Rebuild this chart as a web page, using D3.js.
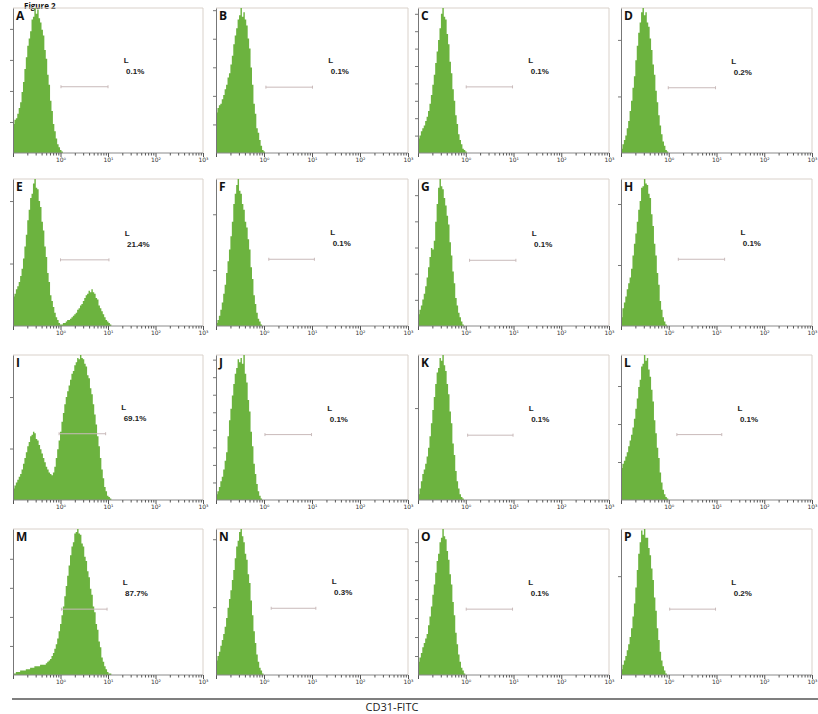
<!DOCTYPE html>
<html>
<head>
<meta charset="utf-8">
<script src="https://cdn.jsdelivr.net/npm/d3@7"></script>
<style>
  html, body { margin: 0; padding: 0; background: #fff; }
  svg { display: block; }
  .panel-letter { font-family: "Open Sans", sans-serif; font-weight: 700; font-size: 12px; fill: #111; }
  .gate-text { font-family: "Liberation Sans", Arial, sans-serif; font-weight: 700; font-size: 8px; fill: #222; }
  .x-minor .domain, .x-major .domain { display: none; }
  .x-minor line, .x-major line { stroke: #555; }
  .x-major text { font-family: "DejaVu Sans", sans-serif; font-size: 6px; fill: #333; }
  .y-axis line, .y-axis path { stroke: #777; }
</style>
</head>
<body>
<svg id="chart" width="818" height="714"></svg>
<script>
// panel letters and gate readouts
const panelLetters = ['A', 'B', 'C', 'D', 'E', 'F', 'G', 'H', 'I', 'J', 'K', 'L', 'M', 'N', 'O', 'P'];
const gatePercent = ['0.1%', '0.1%', '0.1%', '0.2%', '21.4%', '0.1%', '0.1%', '0.1%',
                     '69.1%', '0.1%', '0.1%', '0.1%', '87.7%', '0.3%', '0.1%', '0.2%'];

// gate marker "L": start / end in log10 units, height as % of peak
const gateFrom = [0.01, 0.04, 0.01, -0.01, 0.0, 0.10, 0.08, 0.20, -0.03, 0.02, 0.04, 0.17, 0.02, 0.15, 0.01, 0.02];
const gateTo = [1.0, 1.01, 0.98, 0.98, 1.02, 1.05, 1.05, 1.17, 0.95, 0.99, 0.99, 1.11, 0.98, 1.08, 0.98, 0.98];
const gateLevel = [45.7, 45.4, 45.6, 45.0, 45.0, 45.4, 44.7, 45.4, 45.7, 45.1, 44.7, 45.1, 45.1, 45.7, 45.1, 45.1];

// y tick spacing (counts axis, % of peak)
const yTickStep = [21.4, 19.7, 12, 39, 42.5, 38, 17.8, 41.5, 35.5, 12.1, 63.4, 26.2, 19.9, 46.5, 13, 67.7];

// histogram bins start at 10^-1, each bin 0.03 decades wide (values = % of peak)
const binStart = -1;
const binStep = 0.03;

const histA = [20, 23, 24, 27, 31, 35, 42, 49, 58, 66, 74, 79, 84, 92, 94, 100, 96, 99, 93, 90, 85, 81, 71, 65, 54, 47, 36, 29, 20, 15, 10, 6, 4, 2, 1, 0];
const histB = [28, 31, 33, 34, 37, 40, 44, 47, 52, 55, 61, 67, 75, 81, 86, 92, 95, 100, 94, 97, 92, 88, 79, 72, 59, 47, 34, 27, 17, 14, 9, 5, 2, 1, 0];
const histC = [10, 12, 15, 17, 19, 22, 25, 29, 34, 40, 47, 54, 62, 70, 78, 86, 96, 100, 94, 92, 82, 75, 63, 55, 44, 36, 26, 20, 13, 9, 6, 3, 2, 1, 0];
const histD = [3, 6, 9, 12, 17, 22, 29, 36, 45, 53, 64, 74, 83, 90, 97, 100, 95, 97, 90, 87, 79, 71, 61, 54, 43, 35, 26, 19, 13, 8, 5, 2, 1, 0];
const histE = [20, 22, 25, 27, 30, 34, 39, 46, 54, 62, 72, 79, 87, 90, 97, 100, 94, 93, 85, 81, 71, 65, 54, 47, 36, 30, 21, 17, 13, 9, 6, 4, 2, 1,
               1, 2, 2, 3, 4, 4, 5, 6, 7, 8, 9, 11, 12, 14, 15, 17, 19, 21, 22, 24, 23, 25, 23, 22, 19, 18, 14, 12, 10, 8, 6, 4, 3, 2, 1, 0];
const histF = [2, 4, 7, 11, 16, 22, 28, 36, 44, 52, 61, 71, 83, 90, 96, 100, 92, 90, 83, 79, 71, 67, 59, 52, 40, 32, 21, 15, 9, 5, 3, 1, 0];
const histG = [8, 11, 14, 18, 22, 27, 33, 40, 47, 53, 52, 58, 71, 83, 94, 100, 95, 93, 87, 82, 75, 69, 57, 48, 37, 29, 19, 14, 9, 6, 3, 1, 0];
const histH = [6, 12, 16, 20, 25, 29, 33, 39, 48, 56, 63, 71, 79, 85, 94, 95, 100, 97, 96, 90, 87, 76, 68, 56, 48, 36, 28, 17, 11, 6, 3, 1, 0];
const histI = [8, 10, 12, 14, 16, 18, 21, 25, 29, 33, 37, 40, 44, 45, 47, 46, 42, 41, 38, 35, 32, 29, 26, 23, 21, 19, 18, 17, 19, 23, 29, 35, 41, 47,
               54, 60, 66, 71, 75, 79, 83, 87, 89, 93, 95, 98, 97, 100, 98, 97, 94, 92, 86, 84, 77, 73, 66, 59, 52, 44, 37, 29, 21, 15, 9, 6, 3, 2, 1, 0];
const histJ = [4, 6, 9, 13, 16, 21, 27, 33, 44, 55, 63, 72, 80, 87, 91, 97, 95, 98, 94, 100, 87, 81, 69, 61, 47, 37, 25, 18, 11, 6, 3, 1, 0];
const histK = [4, 8, 13, 18, 21, 25, 30, 36, 44, 53, 62, 71, 80, 88, 91, 98, 96, 100, 93, 89, 80, 73, 61, 53, 39, 31, 20, 13, 8, 4, 2, 1, 0];
const histL = [22, 25, 27, 30, 33, 37, 41, 45, 50, 56, 63, 70, 78, 83, 92, 94, 100, 96, 98, 90, 85, 76, 68, 55, 46, 36, 29, 19, 12, 7, 4, 2, 1, 0];
const histM = [1, 1, 2, 2, 2, 3, 3, 3, 3, 4, 4, 4, 5, 5, 5, 6, 6, 6, 6, 7, 7, 7, 7, 8, 9, 10, 11, 13, 15, 18, 21, 25, 30, 35,
               41, 47, 54, 61, 68, 75, 82, 88, 91, 97, 98, 100, 97, 96, 90, 88, 81, 78, 71, 67, 59, 55, 47, 43, 35, 31, 23, 19, 12, 9, 6, 4, 2, 1, 1, 0];
const histN = [10, 13, 16, 20, 24, 28, 33, 39, 46, 52, 58, 65, 72, 80, 88, 92, 98, 100, 95, 91, 83, 79, 69, 63, 51, 41, 30, 22, 14, 9, 5, 3, 1, 0];
const histO = [9, 12, 15, 19, 22, 25, 28, 34, 40, 47, 55, 62, 70, 78, 83, 91, 94, 100, 95, 93, 85, 79, 69, 62, 50, 41, 29, 21, 14, 9, 5, 3, 1, 0];
const histP = [4, 7, 10, 13, 17, 21, 26, 32, 40, 49, 60, 72, 83, 91, 99, 96, 100, 94, 94, 87, 82, 73, 65, 53, 44, 32, 24, 16, 10, 6, 3, 1, 0];

const histograms = [histA, histB, histC, histD, histE, histF, histG, histH,
                    histI, histJ, histK, histL, histM, histN, histO, histP];

// x axis decades
const majorTicks = [0.1, 1, 10, 100, 1000];
const majorLabels = ['', '10\u2070', '10\u00B9', '10\u00B2', '10\u00B3'];

// layout of the scanned figure
const colLeft = [13, 216, 418, 621];
const colRight = [203, 408, 609, 812];
const rowTop = [8, 179, 355, 529];
const rowBottom = [153, 326, 500, 675];

const svg = d3.select('#chart');

svg.append('text')
  .attr('x', 24).attr('y', 9)
  .attr('font-family', '"Open Sans", sans-serif')
  .attr('font-weight', 700)
  .attr('font-size', 8)
  .attr('fill', '#111')
  .text('Figure 2');

const minorTicks = [];
majorTicks.slice(0, -1).forEach(d => {
  for (let k = 2; k <= 9; k++) minorTicks.push(d * k);
});

histograms.forEach((hist, i) => {
  const col = i % 4, row = Math.floor(i / 4);
  const left = colLeft[col], right = colRight[col];
  const top = rowTop[row], bottom = rowBottom[row];

  const x = d3.scaleLog().domain([0.1, 1000]).range([left, right]);
  const y = d3.scaleLinear().domain([0, 100]).range([bottom, top]);

  const g = svg.append('g').attr('class', 'panel');

  // frame
  g.append('path')
    .attr('d', `M${left},${top}H${right}V${bottom}`)
    .attr('fill', 'none')
    .attr('stroke', '#d9d1ca')
    .attr('stroke-width', 1);

  g.append('clipPath').attr('id', 'clip' + i)
    .append('rect')
    .attr('x', left).attr('y', top)
    .attr('width', right - left).attr('height', bottom - top);

  const bins = hist.map((v, k) => ({ l: binStart + k * binStep, v: v }));
  const area = d3.area()
    .curve(d3.curveStepAfter)
    .x(d => x(Math.pow(10, d.l)))
    .y0(y(0))
    .y1(d => y(d.v));

  g.append('path')
    .datum(bins)
    .attr('clip-path', `url(#clip${i})`)
    .attr('fill', '#6cb33f')
    .attr('d', area);

  // bottom axis line
  g.append('line')
    .attr('x1', left).attr('x2', right)
    .attr('y1', bottom).attr('y2', bottom)
    .attr('stroke', '#8a8a8a');

  g.append('g')
    .attr('class', 'x-minor')
    .attr('transform', `translate(0,${bottom})`)
    .call(d3.axisBottom(x).tickValues(minorTicks).tickSize(2.5).tickFormat(''));

  g.append('g')
    .attr('class', 'x-major')
    .attr('transform', `translate(0,${bottom})`)
    .call(d3.axisBottom(x).tickValues(majorTicks).tickSize(4).tickPadding(1)
      .tickFormat((d, k) => majorLabels[k]));

  const step = yTickStep[i];
  g.append('g')
    .attr('class', 'y-axis')
    .attr('transform', `translate(${left},0)`)
    .call(d3.axisLeft(y).tickValues(d3.range(step, 99.5, step)).tickSize(3).tickSizeOuter(0).tickFormat(''));

  // gate marker
  const gy = y(gateLevel[i]);
  const gx0 = x(Math.pow(10, gateFrom[i])), gx1 = x(Math.pow(10, gateTo[i]));
  const gate = g.append('g').attr('stroke', '#c9baba').attr('stroke-width', 1);
  gate.append('line').attr('x1', gx0).attr('x2', gx1).attr('y1', gy).attr('y2', gy);
  gate.append('line').attr('x1', gx0).attr('x2', gx0).attr('y1', gy - 1.5).attr('y2', gy + 1.5);
  gate.append('line').attr('x1', gx1).attr('x2', gx1).attr('y1', gy - 1.5).attr('y2', gy + 1.5);

  g.append('text')
    .attr('class', 'gate-text')
    .attr('x', x(Math.pow(10, gateTo[i] + 0.33)))
    .attr('y', gy - 24)
    .text('L');

  g.append('text')
    .attr('class', 'gate-text')
    .attr('x', x(Math.pow(10, gateTo[i] + 0.38)))
    .attr('y', gy - 13)
    .text(gatePercent[i]);

  g.append('text')
    .attr('class', 'panel-letter')
    .attr('x', left + 3)
    .attr('y', top + 12)
    .text(panelLetters[i]);
});

// shared x label
svg.append('line')
  .attr('x1', 12).attr('x2', 818)
  .attr('y1', 699).attr('y2', 699)
  .attr('stroke', '#555')
  .attr('stroke-width', 1.3);

svg.append('text')
  .attr('x', 392).attr('y', 710.5)
  .attr('text-anchor', 'middle')
  .attr('font-family', '"Open Sans", sans-serif')
  .attr('font-size', 11)
  .attr('fill', '#222')
  .text('CD31-FITC');
</script>
</body>
</html>
